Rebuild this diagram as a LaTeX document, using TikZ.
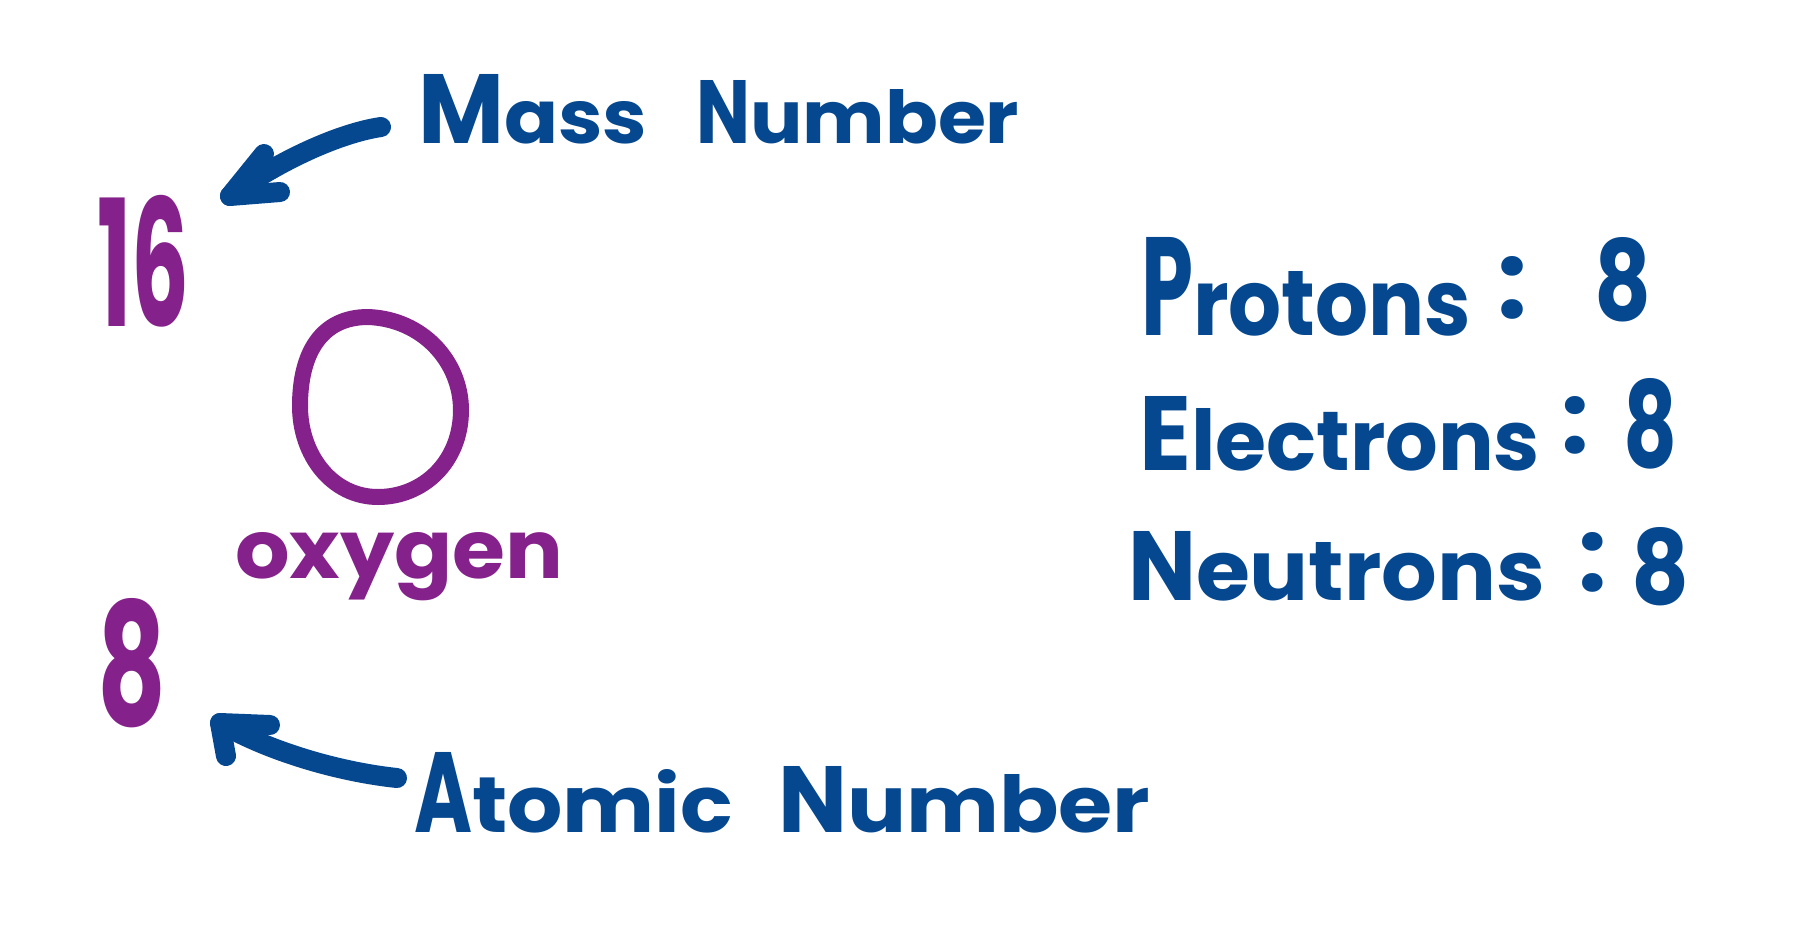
\documentclass[tikz,border=0pt]{standalone}
\usepackage{fontspec}
\setmainfont{Poppins}
\usepackage{graphicx}
\definecolor{inkblue}{RGB}{5,72,143}
\definecolor{inkpurple}{RGB}{133,33,139}
\newcommand{\fitbox}[3]{\resizebox{#1}{#2}{#3}}
\begin{document}
\begin{tikzpicture}[x=1pt,y=-1pt,
  lbl/.style={inner sep=0pt, outer sep=0pt, anchor=base west, font=\bfseries},
  bluetxt/.style={lbl, text=inkblue},
  purptxt/.style={lbl, text=inkpurple},
  ink/.style={line width=20pt, line cap=round, line join=round}]
\fill[white] (0,0) rectangle (1795,940);
\useasboundingbox (0,0) rectangle (1795,940);

% purple element block
\node[purptxt] (sixteen) at (97,326) {\fitbox{92pt}{131pt}{16}};
\coordinate (nucleus) at (381,406);
\draw[ink, line width=16pt, draw=inkpurple]
  (368,317) .. controls (423,319) and (461,362) .. (461,410)
            .. controls (461,462) and (423,497) .. (378,497)
            .. controls (332,497) and (300,455) .. (300,406)
            .. controls (300,352) and (322,317) .. cycle;
\node[purptxt] (oxygen) at (235,578) {\fitbox{328pt}{46pt}{oxygen}};
\node[purptxt] (eight) at (97,725) {\fitbox{69pt}{127pt}{8}};

% labels
\node[bluetxt] (mass) at (418,143) {\fitbox{86pt}{69pt}{M}\fitbox{143pt}{42pt}{ass}\hspace{49pt}\fitbox{54pt}{63pt}{N}\fitbox{269pt}{54pt}{umber}};
\node[bluetxt] (atomic) at (414,832) {\fitbox{58pt}{80pt}{A}\fitbox{261pt}{63pt}{tomic}\hspace{45pt}\fitbox{69pt}{66pt}{N}\fitbox{303pt}{58pt}{umber}};

\node[bluetxt] (protons) at (1141,335) {\fitbox{52pt}{98pt}{P}\fitbox{278pt}{64pt}{rotons}};
\node[bluetxt] (pcolon) at (1497,318) {\resizebox{!}{62pt}{:}};
\node[bluetxt] (pval) at (1594,320) {\fitbox{57pt}{83pt}{8}};

\node[bluetxt] (electrons) at (1139,470) {\fitbox{52pt}{74pt}{E}\fitbox{349pt}{62pt}{lectrons}};
\node[bluetxt] (ecolon) at (1561,453) {\resizebox{!}{57pt}{:}};
\node[bluetxt] (eval) at (1623,467) {\fitbox{54pt}{89pt}{8}};

\node[bluetxt] (neutrons) at (1128,600) {\fitbox{68pt}{69pt}{N}\fitbox{349pt}{58pt}{eutrons}};
\node[bluetxt] (ncolon) at (1578,591) {\resizebox{!}{59pt}{:}};
\node[bluetxt] (nval) at (1631,604) {\fitbox{58pt}{77pt}{8}};

% arrows
\coordinate (a1s) at (381,127);
\coordinate (a1t) at (230,196);
\coordinate (a1u) at (264,154);
\coordinate (a1d) at (280,192);
\draw[ink, draw=inkblue] (a1s) .. controls (340,133) and (280,160) .. (a1t);
\draw[ink, draw=inkblue] (a1u) -- (a1t) -- (a1d);

\coordinate (a2s) at (397,778);
\coordinate (a2t) at (220,723);
\coordinate (a2r) at (270,725);
\coordinate (a2d) at (226,756);
\draw[ink, draw=inkblue] (a2s) .. controls (340,772) and (270,752) .. (a2t);
\draw[ink, draw=inkblue] (a2r) -- (a2t) -- (a2d);
\end{tikzpicture}
\end{document}
